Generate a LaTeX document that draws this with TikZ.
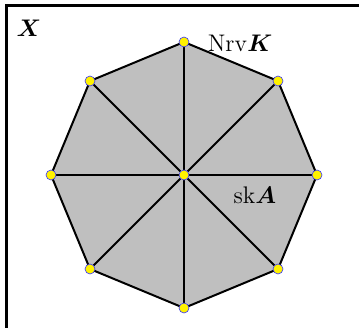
\documentclass[tikz,border=0pt,12pt]{standalone}
\usepackage{amsmath, amssymb, bm}
\usetikzlibrary{calc}
\tikzset{
  edge/.style   = {line width=1pt, draw=black},
  vtx/.style    = {circle, fill=yellow, draw=blue!80, line width=0.3pt,
                   minimum size=5pt, inner sep=0pt},
  face/.style   = {fill=black!25},
  lbl/.style    = {font=\normalsize, inner sep=0pt},
}
\begin{document}
\begin{tikzpicture}[x=0.5pt, y=-0.5pt]

\useasboundingbox (0,0) rectangle (359,327);
\clip (0,0) rectangle (359,327);

%% ---- outer frame (cut at right and bottom) ----
\draw[line width=1.2pt] (6.5,5.5) rectangle (380,350);

%% ---- octagon vertices ----
\coordinate (c)  at (184,175);
\coordinate (v0) at ($(c)+(133,0)$);
\coordinate (v1) at ($(c)+(94,-94)$);
\coordinate (v2) at ($(c)+(0,-133)$);
\coordinate (v3) at ($(c)+(-94,-94)$);
\coordinate (v4) at ($(c)+(-133,0)$);
\coordinate (v5) at ($(c)+(-94,94)$);
\coordinate (v6) at ($(c)+(0,133)$);
\coordinate (v7) at ($(c)+(94,94)$);

%% ---- filled octagon ----
\draw[face, edge, line join=round]
  (v0) -- (v1) -- (v2) -- (v3) -- (v4) -- (v5) -- (v6) -- (v7) -- cycle;

%% ---- spokes ----
\draw[edge] (v0) -- (v4);
\draw[edge] (v1) -- (v5);
\draw[edge] (v2) -- (v6);
\draw[edge] (v3) -- (v7);

%% ---- vertices ----
\node[vtx] (n0) at (v0) {};
\node[vtx] (n1) at (v1) {};
\node[vtx] (n2) at (v2) {};
\node[vtx] (n3) at (v3) {};
\node[vtx] (n4) at (v4) {};
\node[vtx] (n5) at (v5) {};
\node[vtx] (n6) at (v6) {};
\node[vtx] (n7) at (v7) {};
\node[vtx] (nc) at (c)  {};

%% ---- labels ----
\node[lbl] (spaceX) at (29,28)  {$\bm{X}$};
\node[lbl] (nerve)  at (240,43) {$\mathrm{Nrv}\bm{K}$};
\node[lbl] (skel)   at (255,195) {$\mathrm{sk}\bm{A}$};

\end{tikzpicture}
\end{document}
